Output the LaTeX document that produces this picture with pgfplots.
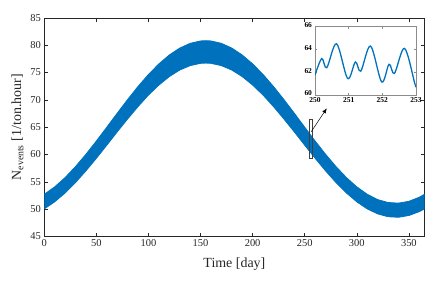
\documentclass[border=0pt]{standalone}
\usepackage{fontspec}
\setmainfont{Liberation Serif}
\usepackage{pgfplots}
\pgfplotsset{compat=1.18}
\usepackage{pgfplotstable}
\usepgfplotslibrary{fillbetween}
\usetikzlibrary{arrows.meta}
\definecolor{mblue}{RGB}{0,114,189}
\definecolor{axgray}{RGB}{38,38,38}

\pgfplotstableread{
t   up    lo
0   52.73 50.05
10  54.09 51.35
20  55.79 52.97
30  57.81 54.88
40  60.06 57.02
50  62.48 59.32
60  65.01 61.71
70  67.57 64.15
80  70.08 66.52
90  72.47 68.79
100 74.67 70.89
110 76.60 72.72
120 78.23 74.27
130 79.49 75.47
140 80.36 76.28
150 80.80 76.70
155 80.85 76.75
160 80.80 76.70
170 80.36 76.28
180 79.49 75.47
190 78.23 74.27
200 76.60 72.72
210 74.67 70.89
220 72.47 68.79
230 70.08 66.52
240 67.57 64.15
250 65.01 61.71
260 62.48 59.32
270 60.06 57.02
280 57.81 54.88
290 55.79 52.97
300 54.09 51.35
310 52.73 50.05
320 51.76 49.14
330 51.22 48.62
340 51.11 48.52
350 51.44 48.84
360 52.19 49.55
365 52.73 50.05
}\band

\pgfplotstableread{
t      v
250.00 61.75
250.20 63.20
250.35 62.40
250.64 64.50
250.97 61.45
251.20 62.90
251.36 62.10
251.65 64.30
251.98 61.15
252.20 62.70
252.36 61.90
252.66 64.10
252.97 60.95
253.00 60.90
}\zoomdata

\begin{document}
\begin{tikzpicture}
\begin{axis}[
  scale only axis, width=380.2bp, height=218.5bp,
  at={(0,0)}, anchor=south west,
  xmin=0, xmax=365, ymin=45, ymax=85,
  xtick={0,50,...,350}, ytick={45,50,...,85},
  tick align=inside, major tick length=3.8bp,
  axis line style={axgray, line width=0.5bp},
  every tick/.style={axgray, line width=0.5bp},
  tick label style={font=\fontsize{10.5}{12}\selectfont, text=axgray},
  /pgf/number format/assume math mode=true,
  xlabel={Time [day]},
  ylabel={N\textsubscript{events} [1/ton.hour]},
  label style={font=\fontsize{14}{16}\selectfont, text=axgray},
  xlabel style={yshift=-4bp},
  clip=true,
]
\addplot[name path=up, draw=mblue, line width=0.8bp] table[x=t, y=up] {\band};
\addplot[name path=lo, draw=mblue, line width=0.8bp] table[x=t, y=lo] {\band};
\addplot[fill=mblue, draw=none] fill between[of=up and lo];
\draw[black!75, line width=0.5bp] (axis cs:254.7,59.3) rectangle (axis cs:257.4,66.45);
\draw[black, line width=0.5bp, -{Latex[length=5bp,width=4bp]}] (axis cs:256.3,64.2) -- (axis cs:271.2,68.47);
\end{axis}
\begin{axis}[
  scale only axis, width=101bp, height=68.3bp,
  at={(270.7bp,141.5bp)}, anchor=south west,
  xmin=250, xmax=253, ymin=60, ymax=66,
  xtick={250,251,252,253}, ytick={60,62,64,66},
  tick align=inside, major tick length=2bp,
  axis background/.style={fill=white},
  axis line style={black!45, line width=0.5bp},
  every tick/.style={black!45, line width=0.5bp},
  tick label style={font=\fontsize{7.5}{8}\selectfont\bfseries, text=black},
  /pgf/number format/assume math mode=true,
  xticklabel style={yshift=0.5bp},
  yticklabel style={xshift=0.5bp, yshift=1.5bp},
]
\addplot[mblue, line width=1.3bp, smooth, tension=0.55] table[x=t, y=v] {\zoomdata};
\end{axis}
\pgfresetboundingbox
\path[use as bounding box] (-44.3bp,-47.5bp) rectangle (391.7bp,236.5bp);
\end{tikzpicture}
\end{document}
